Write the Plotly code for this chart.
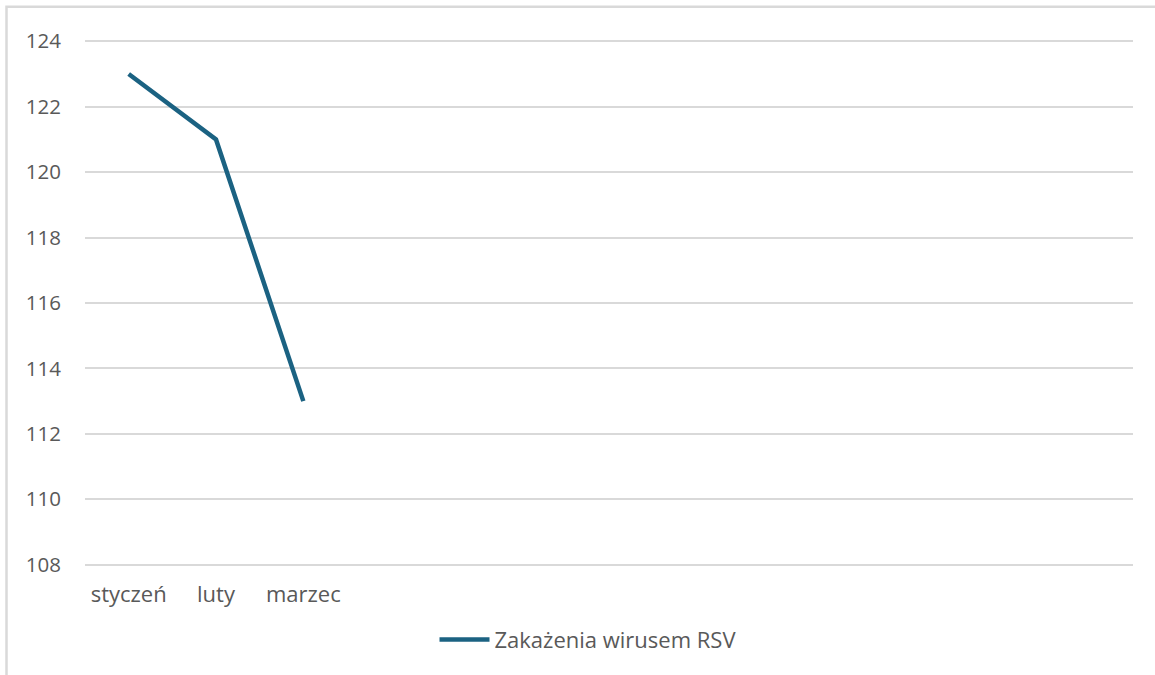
import plotly.graph_objects as go

categories = ["styczeń", "luty", "marzec", "", "", "", "", "", "", "", "", ""]
values = [123, 121, 113]
series_name = "Zakażenia wirusem RSV"
y_ticks = [108, 110, 112, 114, 116, 118, 120, 122, 124]

FONT = "Open Sans, Noto Sans, Arial, sans-serif"
W, H = 1155, 675
Y0, Y1 = 107.96, 124.04
# target pixel positions of plot area (gridlines 124 -> 41, 108 -> 565)
unit = (565 - 41) / 16.0
top_px = 41 - (Y1 - 124) * unit
bot_px = 565 + (108 - Y0) * unit
L, R = 85, 22
T, B = top_px, H - bot_px
pw, ph = W - L - R, H - T - B

x_idx = list(range(len(categories)))

fig = go.Figure()
fig.add_trace(go.Scatter(
    x=x_idx[:len(values)], y=values, mode="lines", name=series_name,
    line=dict(color="#1B6282", width=4.5),
    showlegend=True,
))

def px_to_paper_x(px):
    return (px - L) / pw

def px_to_paper_y(py):
    return (H - B - py) / ph

fig.add_shape(type="rect", xref="paper", yref="paper",
              x0=px_to_paper_x(6.5), x1=px_to_paper_x(1175),
              y0=px_to_paper_y(700), y1=px_to_paper_y(6.5),
              line=dict(color="#D9D9D9", width=2.5), fillcolor="rgba(0,0,0,0)",
              layer="below")

fig.update_layout(
    width=W, height=H,
    margin=dict(l=L, r=R, t=T, b=B, autoexpand=False),
    paper_bgcolor="white", plot_bgcolor="white",
    font=dict(family=FONT, color="#595959", size=21),
    xaxis=dict(
        range=[-0.5, len(categories) - 0.5],
        tickmode="array", tickvals=x_idx, ticktext=categories,
        showgrid=False, zeroline=False, showline=False,
        ticks="", ticklabelstandoff=13, fixedrange=True,
        tickfont=dict(family=FONT, size=22, color="#595959"),
    ),
    yaxis=dict(
        range=[Y0, Y1], tickmode="array", tickvals=y_ticks,
        showgrid=True, gridcolor="#D9D9D9", gridwidth=1.5,
        zeroline=False, showline=False, ticks="",
        ticklabelstandoff=23,
        tickfont=dict(family=FONT, size=20.5, color="#595959"),
    ),
    legend=dict(orientation="h", x=px_to_paper_x(588), xanchor="center",
                y=px_to_paper_y(640), yanchor="middle",
                font=dict(family=FONT, size=22, color="#595959"), itemwidth=50,
                bgcolor="rgba(0,0,0,0)"),
    showlegend=True,
)

fig.write_html("out.html",
               config={"displayModeBar": False},
               post_script="document.body.style.margin='0';document.body.style.overflow='hidden';")
